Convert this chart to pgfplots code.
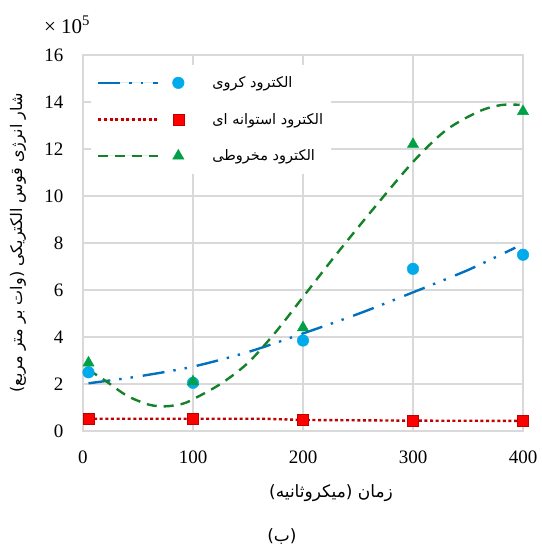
\documentclass[border=0pt]{standalone}
\usepackage{pgfplots}
\pgfplotsset{compat=1.18}
\usepackage{fontspec}
\setmainfont{Liberation Serif}
\newfontfamily\arabicfont[Script=Arabic]{DejaVu Sans}
\TeXXeTstate=1

\definecolor{sphline}{RGB}{0,112,192}
\definecolor{sphmark}{RGB}{0,170,235}
\definecolor{cylline}{RGB}{192,0,0}
\definecolor{cylmark}{RGB}{255,0,0}
\definecolor{conline}{RGB}{20,130,40}
\definecolor{conmark}{RGB}{0,160,70}
\definecolor{gridgray}{RGB}{217,217,217}

\tikzset{
  sphstyle/.style={sphline, line width=2.4pt, dash pattern=on 22pt off 9pt on 2.4pt off 9pt on 2.4pt off 10pt},
  cylstyle/.style={cylline, line width=2.4pt, dash pattern=on 3pt off 2.6pt},
  constyle/.style={conline, line width=2.4pt, dash pattern=on 10pt off 7pt},
}

\newcommand{\fa}[1]{{\arabicfont\beginR #1\endR}}

\begin{document}
\begin{tikzpicture}
\useasboundingbox (-83pt,-117pt) rectangle (458pt,431pt);
\begin{axis}[
  at={(0pt,0pt)}, anchor=south west,
  scale only axis, width=440pt, height=376pt,
  xmin=0, xmax=400, ymin=0, ymax=16,
  xtick={0,100,200,300,400},
  ytick={0,2,4,6,8,10,12,14,16},
  grid=major,
  major grid style={line width=1.3pt, gridgray},
  axis line style={line width=1.3pt, gridgray},
  tick style={draw=none},
  /pgf/number format/assume math mode=true,
  tick label style={font=\fontsize{19}{21}\selectfont},
  yticklabel style={xshift=-16pt},
  xticklabel style={yshift=-16pt},
  legend cell align=left,
  legend style={at={(0.018,0.975)}, anchor=north west, draw=none, fill=white,
    inner xsep=6pt, inner ysep=10pt, row sep=20pt,
    font=\fontsize{14.5}{16}\selectfont},
]
% fitted trend curves
\addplot[sphstyle, smooth, forget plot] coordinates {
  (5,2.03) (50,2.32) (100,2.74) (150,3.36) (200,4.15) (250,4.98)
  (300,5.9) (350,6.85) (393,7.8)};
\addplot[cylstyle, forget plot] coordinates {
  (5,0.52) (100,0.52) (165,0.52) (200,0.47) (300,0.44) (400,0.43)};
\addplot[constyle, smooth, forget plot] coordinates {
  (5,2.6) (20,2.15) (40,1.5) (60,1.12) (75,1.05) (90,1.15) (100,1.35)
  (125,2.0) (150,2.9) (175,4.2) (200,5.7) (230,7.5) (263,9.4)
  (300,11.45) (330,12.8) (360,13.6) (380,13.87) (397,13.88)};

% measured points
\addplot[only marks, mark=*, mark size=5.8pt, draw=sphmark, fill=sphmark,
  legend image code/.code={
    \draw[sphstyle] (0pt,0pt) -- (60pt,0pt);
    \draw[only marks] plot coordinates {(80pt,0pt)};
    \path[draw=none, fill=none] (0pt,0pt) -- (112pt,0pt);
  }] coordinates {(5,2.5) (100,2.05) (200,3.85) (300,6.9) (400,7.5)};
\addlegendentry{\fa{الکترود کروی}}

\addplot[only marks, mark=square*, mark size=5.5pt, draw=cylline, fill=cylmark,
  legend image code/.code={
    \draw[cylstyle] (0pt,0pt) -- (60pt,0pt);
    \draw[only marks] plot coordinates {(80pt,0pt)};
    \path[draw=none, fill=none] (0pt,0pt) -- (112pt,0pt);
  }] coordinates {(5,0.52) (100,0.52) (200,0.5) (300,0.42) (400,0.42)};
\addlegendentry{\fa{الکترود استوانه ای}}

\addplot[only marks, mark=triangle*, mark size=6.5pt, draw=conmark, fill=conmark,
  legend image code/.code={
    \draw[constyle] (0pt,0pt) -- (60pt,0pt);
    \draw[only marks] plot coordinates {(80pt,0pt)};
    \path[draw=none, fill=none] (0pt,0pt) -- (112pt,0pt);
  }] coordinates {(5,2.9) (100,2.1) (200,4.4) (300,12.2) (400,13.6)};
\addlegendentry{\fa{الکترود مخروطی}}
\end{axis}

% axis titles and caption
\node[font=\fontsize{21}{23}\selectfont] at (-16pt,406pt) {× 10\textsuperscript{5}};
\node[rotate=90, font=\fontsize{16}{18}\selectfont] at (-65pt,188pt)
  {\fa{شار انرژی قوس الکتریکی (وات بر متر مربع)}};
\node[font=\fontsize{17}{19}\selectfont] at (248pt,-62pt) {\fa{زمان (میکروثانیه)}};
\node[font=\fontsize{17}{19}\selectfont] at (199pt,-106pt) {\fa{(ب)}};
\end{tikzpicture}
\end{document}
